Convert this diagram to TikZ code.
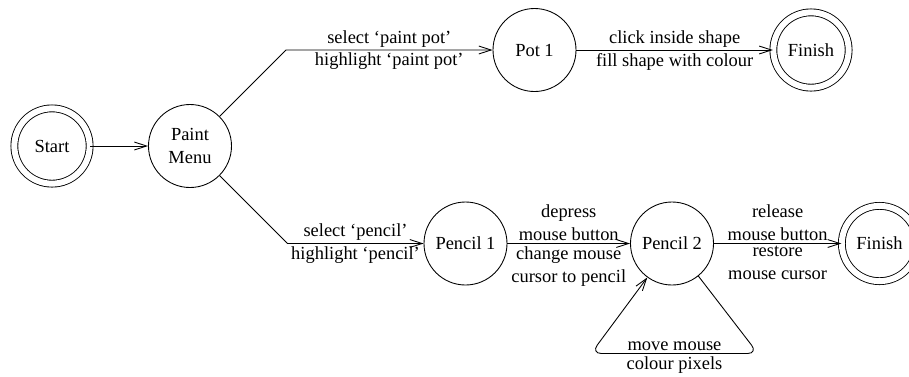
\documentclass[tikz,border=0pt]{standalone}
\usepackage{fontspec}
\setmainfont{Liberation Serif}
\usetikzlibrary{arrows.meta,positioning}

\begin{document}
\begin{tikzpicture}[node distance = 2cm, on grid, line width=0.5pt, >={Straight Barb[length=7pt,width=4.5pt]}, font=\fontsize{10.5pt}{13pt}\selectfont,
  stage/.style={circle, draw, minimum size=1.66cm, inner sep=0pt, align=center},
  ends/.style={stage, double, double distance=3.4pt, minimum size=1.506cm},
  act/.style={inner sep=1.5pt, align=center}]
  \useasboundingbox (-3.8,2.92) rectangle (14.38,-4.6);
  \node[stage] (menu) at (0,0) {Paint\\Menu};
  \node[ends, left=2.76cm of menu] (start) {Start};
  \node[stage, above right=1.92cm and 6.89cm of menu] (pot1) {Pot 1};
  \node[ends, right=5.53cm of pot1] (fin1) {Finish};
  \node[stage, below right=1.95cm and 5.51cm of menu] (pen1) {Pencil 1};
  \node[stage, right=4.13cm of pen1] (pen2) {Pencil 2};
  \node[ends, right=4.15cm of pen2] (fin2) {Finish};
  \coordinate[above right=1.92cm and 1.92cm of menu] (upbend);
  \coordinate[below right=1.95cm and 1.95cm of menu] (lowbend);
  \coordinate[below right=2.2cm and 1.72cm of pen2] (loopR);
  \coordinate[below left=2.2cm and 1.62cm of pen2] (loopL);

  \draw[->] (start) -- (menu);
  \draw[->] (menu.45) -- (upbend) -- node[act, above] {select `paint pot'} node[act, below] {highlight `paint pot'} (pot1);
  \draw[->] (pot1) -- node[act, above] {click inside shape} node[act, below] {fill shape with colour} (fin1);
  \draw[->] (menu.-45) -- (lowbend) -- node[act, above] {select `pencil'} node[act, below] {highlight `pencil'} (pen1);
  \draw[->] (pen1) -- node[act, above] {depress\\mouse button} node[act, below] {change mouse\\cursor to pencil} (pen2);
  \draw[->] (pen2) -- node[act, above] {release\\mouse button} node[act, below] {restore\\mouse cursor} (fin2);
  \draw[->, rounded corners=6pt] (pen2.-51) -- (loopR) -- node[act, above] {move mouse} node[act, below] {colour pixels} (loopL) -- (pen2.-126);
\end{tikzpicture}
\end{document}
